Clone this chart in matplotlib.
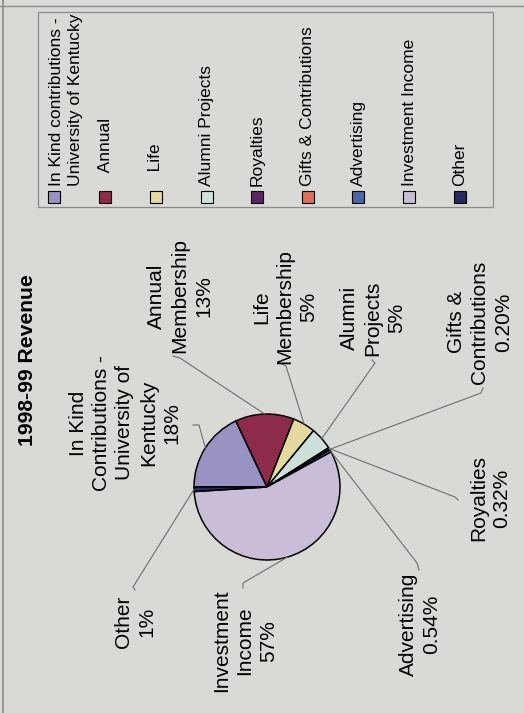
import numpy as np
import matplotlib.pyplot as plt
from matplotlib.patches import Rectangle

W, H = 524, 713

categories = ["In Kind contributions -\nUniversity of Kentucky", "   Annual", "   Life",
              "Alumni Projects", "Royalties", "Gifts & Contributions", "Advertising",
              "Investment Income", "Other"]
slice_names = ["In Kind\nContributions -\nUniversity of\nKentucky", "Annual\nMembership",
               "Life\nMembership", "Alumni\nProjects", "Royalties", "Gifts &\nContributions",
               "Advertising", "Investment\nIncome", "Other"]
values = [18, 13, 5, 5, 0.32, 0.20, 0.54, 57, 1]
pct_text = ["18%", "13%", "5%", "5%", "0.32%", "0.20%", "0.54%", "57%", "1%"]
colors = ["#9893c2", "#8c2c4a", "#e4d99f", "#cde1da", "#5a2462", "#df6f5a",
          "#4a66a8", "#c9bdd7", "#252b5e"]

def iy(y):
    # image y (down) -> data y (up)
    return H - y

fig = plt.figure(figsize=(5.24, 7.13), dpi=100)
bg = "#d9d9d6"
fig.patch.set_facecolor(bg)
ax = fig.add_axes([0, 0, 1, 1])
ax.set_facecolor(bg)

font = "Liberation Sans"

# pie
cx, cy, r = 267, iy(487), 73
wedges, _ = ax.pie(values, colors=colors, startangle=180, counterclock=False,
                   center=(cx, cy), radius=r,
                   wedgeprops=dict(edgecolor="black", linewidth=1.1))

# slice labels and leader lines (positions in image pixels)
label_pos = [(125, 423), (180, 296), (285, 307), (373, 318), (490, 498),
             (480, 322), (420, 624), (245, 641), (135, 622)]
hooks = [[(193, 425), (199, 425)], [(173, 356), (180, 358)], [(282, 364), (286, 366)],
         [(372, 360), (375, 363)], [(458, 500), (455, 497)], [(483, 388), (481, 393)],
         [(419, 570), (417, 563)], [(243, 588), (243, 583)], [(135, 590), (133, 587)]]

for w, name, pct, pos, hk in zip(wedges, slice_names, pct_text, label_pos, hooks):
    mid = np.deg2rad((w.theta1 + w.theta2) / 2)
    px, py = cx + r * np.cos(mid), cy + r * np.sin(mid)
    xs = [p[0] for p in hk] + [px]
    ys = [iy(p[1]) for p in hk] + [py]
    ax.plot(xs, ys, color="#6e6e6e", lw=0.8)
    ax.text(pos[0], iy(pos[1]), name + "\n" + pct, rotation=90, ha="center", va="center",
            multialignment="center", fontsize=15, family=font, linespacing=1.3)

# title
ax.text(28, iy(360), "1998-99 Revenue", rotation=90, ha="center", va="center",
        fontsize=15.2, fontweight="bold", family=font)

# legend
ax.add_patch(Rectangle((38, iy(207)), 455, 195, fill=False, edgecolor="#8a8a8a", lw=0.9))
sw_x = [54, 105, 156, 207, 257, 308, 358, 409, 460]
for i, (lab, col, x) in enumerate(zip(categories, colors, sw_x)):
    ax.add_patch(Rectangle((x - 6, iy(197) - 6), 12, 12, facecolor=col,
                           edgecolor="black", lw=0.8))
    tx = x + 12 if i == 0 else x
    ax.text(tx, iy(186), lab, rotation=90, ha="center", va="bottom",
            multialignment="left", fontsize=12.5, family=font, linespacing=1.35)

# outer frame
ax.plot([3, 3], [0, H], color="#8a8a8a", lw=1.2)
ax.plot([0, W], [iy(6), iy(6)], color="#8a8a8a", lw=1.0)

ax.set_xlim(0, W)
ax.set_ylim(0, H)
ax.set_aspect("auto")
ax.axis("off")

fig.savefig("out.png", dpi=100, facecolor=bg)
